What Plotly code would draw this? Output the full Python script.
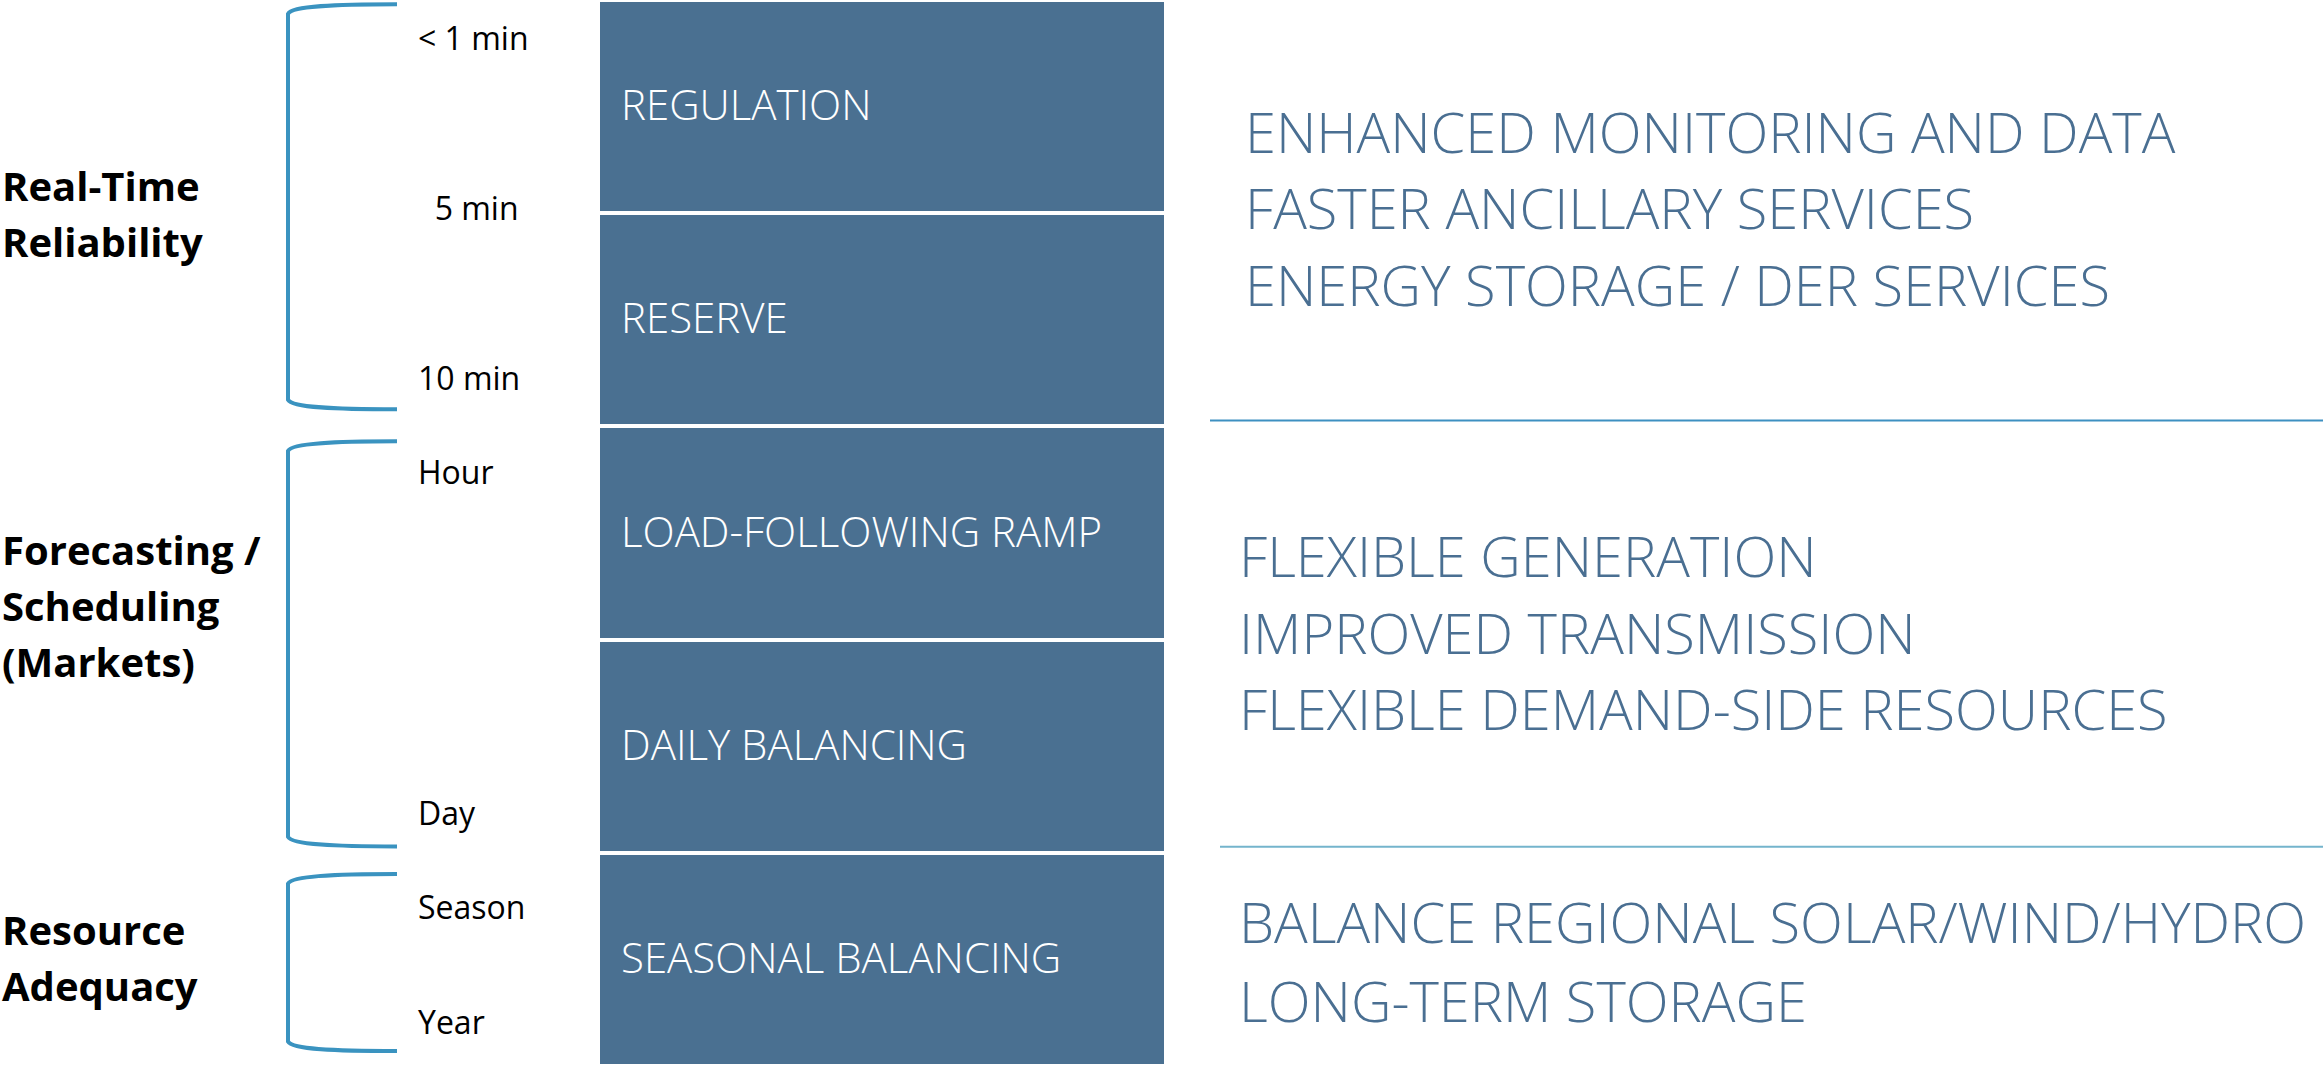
import plotly.graph_objects as go

# ---------------- data ----------------
box_labels = ["REGULATION", "RESERVE", "LOAD-FOLLOWING RAMP", "DAILY BALANCING", "SEASONAL BALANCING"]

group_labels = [["Real-Time", "Reliability"], ["Forecasting /", "Scheduling", "(Markets)"], ["Resource", "Adequacy"]]
group_start = [0, 2, 4]          # slot index where each group begins
group_end = [2, 4, 5]            # slot index where each group ends

bracket_top = [0.02, 2.07, 4.10]     # bracket extents (slot units)
bracket_bottom = [1.92, 3.97, 4.93]

time_labels = ["< 1 min", "\u00a0\u00a05 min", "10 min", "Hour", "Day", "Season", "Year"]
time_pos = [0.175, 0.975, 1.77, 2.21, 3.81, 4.25, 4.79]

solutions = [
    ["ENHANCED MONITORING AND DATA", "FASTER ANCILLARY SERVICES", "ENERGY STORAGE / DER SERVICES"],
    ["FLEXIBLE GENERATION", "IMPROVED TRANSMISSION", "FLEXIBLE DEMAND-SIDE RESOURCES"],
    ["BALANCE REGIONAL SOLAR/WIND/HYDRO", "LONG-TERM STORAGE"],
]

# ---------------- styling / layout constants ----------------
W, H = 2323, 1066
BOX_X0, BOX_X1 = 600, 1164
BOX_COLOR = "#4a7091"
TEXT_BLUE = "#4a6f92"
BRACKET_COLOR = "#3a93c0"
SEP_COLORS = ["#3d90c1", "#74b4cc"]
SEP_X0 = [1210, 1220]
BR_LEFT, BR_RIGHT = 288, 397
LIGHT = "Open Sans"
SOL_X = [1243, 1237, 1237]
SOL_SHIFT = [6, 8, -1]
SOL_LINE_H = [76.5, 76.5, 79]
LABEL_SHIFT = [0, 34, 2]

fig = go.Figure()

n = len(box_labels)
fig.add_trace(go.Bar(
    y=[i + 0.5 for i in range(n)],
    x=[BOX_X1 - BOX_X0] * n,
    base=[BOX_X0] * n,
    width=0.982,
    orientation="h",
    marker=dict(color=BOX_COLOR, line=dict(width=0)),
    hoverinfo="skip",
    showlegend=False,
))

annotations = []
# box labels
for i, lab in enumerate(box_labels):
    annotations.append(dict(
        x=BOX_X0 + 19, y=i + 0.5, text=lab, showarrow=False, yshift=3,
        xanchor="left", yanchor="middle",
        font=dict(family=LIGHT, size=42, color="white", weight=300),
    ))

# group labels (bold, left)
for g, lines in enumerate(group_labels):
    m = len(lines)
    for k, line in enumerate(lines):
        annotations.append(dict(
            x=0, y=(group_start[g] + group_end[g]) / 2, text=line, showarrow=False,
            xanchor="left", yanchor="middle", align="left",
            yshift=LABEL_SHIFT[g] - (k - (m - 1) / 2) * 56,
            font=dict(family="Open Sans", size=40, color="black", weight=700),
        ))

# time labels
for t, p in zip(time_labels, time_pos):
    annotations.append(dict(
        x=416, y=p, text=t, showarrow=False, xanchor="left", yanchor="middle",
        font=dict(family="Open Sans", size=32, color="black"),
    ))

# solution text on the right
for g, lines in enumerate(solutions):
    m = len(lines)
    for k, line in enumerate(lines):
        annotations.append(dict(
            x=SOL_X[g], y=(group_start[g] + group_end[g]) / 2, text=line,
            showarrow=False, xanchor="left", yanchor="middle", align="left",
            yshift=SOL_SHIFT[g] - (k - (m - 1) / 2) * SOL_LINE_H[g],
            font=dict(family=LIGHT, size=56, color=TEXT_BLUE, weight=300),
        ))

shapes = []
# brackets
for t, b in zip(bracket_top, bracket_bottom):
    path = (f"M {BR_RIGHT},{t} C 335,{t} 292,{t + 0.008} {BR_LEFT},{t + 0.045} "
            f"L {BR_LEFT},{b - 0.045} C 292,{b - 0.008} 335,{b} {BR_RIGHT},{b}")
    shapes.append(dict(type="path", path=path, xref="x", yref="y",
                       line=dict(color=BRACKET_COLOR, width=4)))

# separators on the right
for k, g in enumerate(group_end[:-1]):
    shapes.append(dict(type="line", xref="x", yref="y",
                       x0=SEP_X0[k], x1=W, y0=g - 0.028, y1=g - 0.028,
                       line=dict(color=SEP_COLORS[k], width=2)))

fig.update_layout(
    width=W, height=H,
    margin=dict(l=0, r=0, t=0, b=0),
    paper_bgcolor="white", plot_bgcolor="white",
    xaxis=dict(range=[0, W], visible=False, fixedrange=True),
    yaxis=dict(range=[5, 0], visible=False, fixedrange=True),
    annotations=annotations, shapes=shapes,
    bargap=0, showlegend=False,
)

fig.write_html("out.html", config={"displayModeBar": False},
               post_script="document.body.style.margin='0';")
